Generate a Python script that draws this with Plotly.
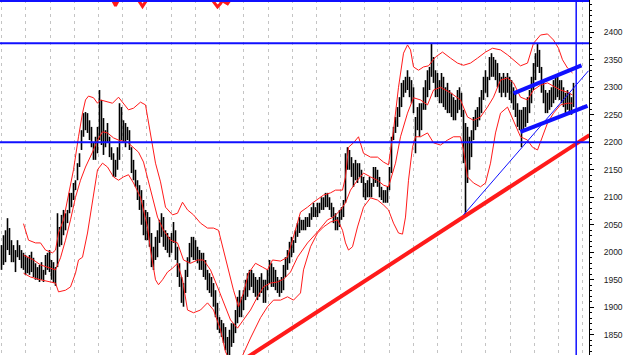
import plotly.graph_objects as go

# ---------------- data ----------------
# daily bars: high / low (one bar every 2 sessions on a session axis 0..589)
high = [
    2013,2031,2040,2062,2044,2022,2013,2004,2022,2013,
    2004,1999,1995,1991,1995,2001,1990,1980,1973,1977,
    1982,1968,1995,1999,2004,1986,1982,1973,2071,2046,
    2068,2077,2071,2077,2108,2108,2126,2131,2162,2180,
    2222,2253,2255,2253,2240,2228,2199,2210,2228,2295,
    2277,2244,2222,2235,2210,2191,2180,2168,2191,2271,
    2264,2240,2235,2228,2222,2191,2168,2150,2131,2122,
    2113,2095,2077,2073,
    2064,2035,2010,2028,2040,2059,2071,2064,2040,2035,
    2028,2035,2055,2040,2010,1980,1955,1944,1968,1991,
    2017,2028,2028,2022,2010,2004,1999,1999,1986,1968,
    1962,1955,1944,1931,1908,1882,1877,1871,1864,1846,
    1859,1871,1871,1895,1919,1931,1919,1931,1950,1962,
    1968,1968,1962,1955,1950,1955,1962,1950,1950,1968,
    1986,1980,1973,1968,1955,1950,1955,1977,1991,2004,
    2019,
    2028,2022,2040,2053,2064,2059,2059,2064,2064,2071,
    2082,2090,2082,2090,2090,2100,2100,2108,2108,2100,
    2090,2082,2071,2064,2077,2082,2095,2180,2191,2186,
    2173,2162,2168,2162,2162,2150,2137,2126,2131,2137,
    2126,2155,2155,2150,2137,2119,2113,2113,2119,2155,
    2210,2228,2246,2264,2282,2308,2313,2319,2331,2319,
    2313,2300,2246,2264,2271,2271,2300,2313,2331,2337,
    2380,2355,2331,2326,2313,2326,2319,2300,2308,2295,
    2290,2282,2277,2295,2300,2290,2259,2235,2228,2210,
    2222,2246,2259,2264,2282,2295,2319,2331,2319,2355,
    2362,2355,2350,2344,2326,2319,2326,2319,2326,2319,
    2313,2300,2290,2271,2259,2259,2264,2264,2282,2295,
    2319,2344,2362,2380,2368,2337,2313,2295,2290,2295,
    2300,2313,2319,2319,2313,2313,2300,2290,2295,2290,
    2282,2308,
]
low = [
    1968,1977,1982,2004,1995,1982,1982,1964,1991,1986,
    1971,1968,1959,1962,1959,1964,1955,1950,1950,1946,
    1950,1946,1959,1968,1964,1950,1944,1939,1973,2010,
    2013,2031,2040,2053,2071,2082,2095,2113,2131,2155,
    2186,2210,2222,2217,2204,2191,2168,2168,2180,2204,
    2195,2177,2191,2199,2173,2168,2137,2137,2150,2168,
    2204,2199,2191,2204,2186,2144,2131,2119,2095,2077,
    2050,2031,2022,2022,
    2010,1973,1968,1986,1991,2017,2028,2010,2004,1999,
    1991,1999,2017,1986,1955,1937,1908,1901,1926,1955,
    1980,1991,1986,1986,1980,1968,1968,1955,1950,1931,
    1926,1919,1901,1882,1859,1853,1846,1835,1822,1812,
    1812,1828,1835,1853,1871,1882,1882,1895,1913,1919,
    1931,1937,1926,1919,1913,1919,1926,1908,1908,1931,
    1944,1937,1937,1931,1926,1919,1926,1931,1955,1968,
    1980,
    1991,1999,2017,2028,2035,2040,2040,2040,2046,2046,
    2059,2064,2064,2064,2071,2077,2077,2082,2082,2077,
    2064,2053,2040,2040,2046,2059,2064,2090,2150,2150,
    2137,2119,2131,2126,2137,2126,2100,2095,2100,2100,
    2100,2119,2126,2119,2100,2095,2090,2090,2090,2113,
    2144,2204,2217,2228,2246,2264,2282,2290,2295,2282,
    2271,2253,2180,2222,2210,2222,2259,2259,2282,2295,
    2319,2308,2282,2282,2271,2271,2264,2259,2253,2253,
    2246,2240,2240,2253,2259,2246,2162,2068,2126,2150,
    2173,2204,2222,2228,2240,2253,2277,2290,2282,2313,
    2319,2319,2313,2300,2290,2282,2290,2282,2290,2277,
    2271,2259,2246,2228,2222,2191,2222,2228,2235,2253,
    2271,2295,2313,2337,2326,2290,2271,2253,2253,2259,
    2264,2271,2277,2282,2277,2271,2264,2253,2259,2253,
    2250,2264,
]

# Bollinger bands (session number, value)
upper_day = [23,28,35,40,45,52,55,58,63,68,73,78,82,85,88,93,97,100,107,112,
             118,122,128,133,140,145,150,155,160,165,172,177,182,187,193,200,207,213,218,223,
             228,233,238,243,248,255,262,267,272,280,287,293,300,307,313,323,330,335,342,345,
             348,353,358,363,370,377,383,388,393,398,403,407,410,413,418,423,428,435,442,450,
             457,463,470,477,485,492,500,507,513,520,527,533,540,547,553,558,562,567,572]
upper = [2052,2022,2017,2017,2004,1999,2004,2035,2059,2108,2150,2210,2253,2277,2284,2281,2271,2277,2273,2271,
         2282,2273,2259,2262,2273,2268,2217,2162,2128,2082,2068,2071,2091,2077,2068,2053,2044,2044,2040,2004,
         1968,1931,1901,1926,1962,1980,1973,1968,1986,1984,1991,2028,2073,2082,2091,2104,2108,2113,2113,2137,
         2191,2199,2210,2180,2173,2173,2164,2159,2222,2300,2362,2377,2368,2337,2331,2337,2339,2355,2364,2353,
         2344,2340,2344,2353,2364,2371,2368,2359,2350,2339,2344,2380,2395,2397,2386,2371,2350,2335,2326]

middle_day = [23,33,40,50,55,60,65,70,75,80,85,92,97,102,107,113,118,127,133,138,
              143,150,157,163,170,177,183,190,197,203,210,217,223,230,237,243,250,257,263,270,
              277,283,290,297,307,317,327,333,340,345,350,357,363,370,377,383,388,395,400,407,
              413,420,427,433,440,450,460,467,473,480,487,493,500,507,513,520,527,533,540,547,
              553,560,567,572]
middle = [1995,1986,1977,1971,1968,1990,2022,2059,2100,2131,2155,2182,2204,2219,2217,2208,2204,2200,2191,2182,
          2164,2113,2064,2040,2022,2017,1986,1980,1986,1986,1968,1937,1908,1877,1862,1877,1895,1919,1937,1944,
          1946,1951,1964,1991,2017,2037,2059,2064,2077,2090,2113,2131,2144,2137,2131,2122,2119,2162,2210,2253,
          2281,2277,2268,2295,2300,2290,2277,2246,2240,2246,2264,2282,2313,2317,2308,2282,2277,2295,2304,2308,
          2302,2295,2291,2286]

lower_day = [23,30,40,50,55,58,65,70,75,78,82,87,92,97,102,107,113,118,123,128,
             133,140,147,150,155,158,162,167,172,177,182,187,193,200,207,213,220,225,230,240,
             250,260,267,273,280,287,293,300,303,310,317,323,330,337,342,345,348,352,357,363,
             370,377,383,388,393,398,402,405,408,412,415,420,427,433,440,447,453,460,463,467,
             473,480,485,490,495,500,507,513,520,527,532,537,542,547,553,560,567,572]
lower = [1962,1955,1950,1946,1944,1928,1931,1937,1962,1986,1991,2035,2095,2150,2162,2155,2137,2131,2137,2141,
         2126,2100,2046,2004,1950,1941,1950,1964,1971,1980,1950,1895,1890,1895,1908,1895,1859,1819,1801,1804,
         1844,1881,1901,1913,1913,1919,1913,1926,1968,2010,2035,2046,2055,2059,2040,2017,2004,2010,2046,2082,
         2099,2095,2086,2077,2053,2035,2033,2064,2131,2191,2210,2210,2217,2199,2195,2204,2210,2210,2186,2137,
         2126,2119,2126,2162,2217,2253,2264,2240,2210,2204,2191,2186,2210,2235,2253,2268,2271,2271]

# thick red indicator peeking in at the top edge
top_ind_day = [105,111,114,115,116,119,125,135,138,142,146,149,205,211,215,217,220,222,224,227,230,236]
top_ind = [2475,2462,2452,2448,2452,2462,2475,2475,2458,2447,2458,2475,2475,2460,2450,2446,2452,2458,2455,2452,2460,2475]

# trend lines (session, value)
red_trend_day = [240, 589]
red_trend = [1801, 2213]
thin_blue_day = [463, 588]
thin_blue = [2068, 2330]
chan_up_day = [513, 581]
chan_up = [2289, 2340]
chan_lo_day = [520, 587]
chan_lo = [2219, 2266]

h_levels = [2457, 2380, 2200]
v_level_day = 575.7
y_ticks = [1850, 1900, 1950, 2000, 2050, 2100, 2150, 2200, 2250, 2300, 2350, 2400]

# ---------------- figure ----------------
bar_day = list(range(1, 2 * len(high), 2))
bx, by = [], []
for d, h, l in zip(bar_day, high, low):
    bx += [d, d, None]
    by += [l, h, None]

RED = "#ff1a1a"
BLUE = "#1010ff"

fig = go.Figure()
fig.add_trace(go.Scatter(x=bx, y=by, mode="lines",
                         line=dict(color="black", width=1.6), hoverinfo="skip"))
for d, v in [(upper_day, upper), (middle_day, middle), (lower_day, lower)]:
    fig.add_trace(go.Scatter(x=d, y=v, mode="lines",
                             line=dict(color=RED, width=1), hoverinfo="skip"))
fig.add_trace(go.Scatter(x=top_ind_day, y=top_ind, mode="lines",
                         line=dict(color=RED, width=3), hoverinfo="skip"))
fig.add_trace(go.Scatter(x=red_trend_day, y=red_trend, mode="lines",
                         line=dict(color=RED, width=4), hoverinfo="skip"))
fig.add_trace(go.Scatter(x=thin_blue_day, y=thin_blue, mode="lines",
                         line=dict(color=BLUE, width=1), hoverinfo="skip"))
fig.add_trace(go.Scatter(x=chan_up_day, y=chan_up, mode="lines",
                         line=dict(color=BLUE, width=4), hoverinfo="skip"))
fig.add_trace(go.Scatter(x=chan_lo_day, y=chan_lo, mode="lines",
                         line=dict(color=BLUE, width=4), hoverinfo="skip"))

for lv in h_levels:
    fig.add_hline(y=lv, line=dict(color=BLUE, width=2))
fig.add_vline(x=v_level_day, line=dict(color=BLUE, width=1.5))

fig.update_layout(
    width=630, height=355,
    margin=dict(l=0, r=41, t=0, b=0),
    paper_bgcolor="white", plot_bgcolor="white",
    showlegend=False,
    xaxis=dict(range=[-0.5, 588.5], showgrid=True, gridcolor="#c4c4c4", gridwidth=1,
               griddash="3px,4px", tick0=1.2, dtick=24.21,
               showticklabels=False, ticks="", zeroline=False, showline=False,
               fixedrange=True),
    yaxis=dict(side="right", range=[1813.2, 2458.7], tickvals=y_ticks,
               ticks="outside", ticklen=4, tickcolor="black", tickwidth=1,
               showline=True, linecolor="black", linewidth=1,
               showgrid=False, zeroline=False,
               minor=dict(dtick=10, tick0=0, ticks="outside", ticklen=2,
                          tickcolor="black", showgrid=False),
               tickfont=dict(family="Liberation Sans", size=8.5, color="#222222"),
               ticklabelstandoff=8, fixedrange=True),
)

fig.write_html("out.html")
